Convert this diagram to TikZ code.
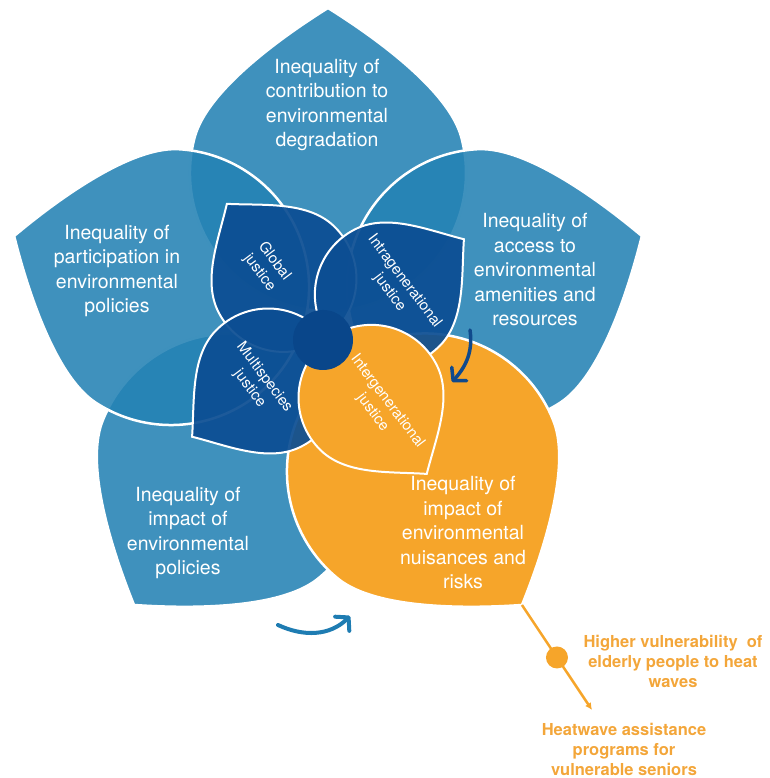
\documentclass[tikz,border=0pt]{standalone}
\usepackage{fontspec}
\setmainfont{TeX Gyre Heros}
\usetikzlibrary{calc}
\usetikzlibrary{arrows.meta}
\tikzset{>=latex}
\definecolor{petalblue}{RGB}{36,130,180}
\definecolor{innerblue}{RGB}{12,78,147}
\definecolor{hubblue}{RGB}{9,70,138}
\definecolor{myorange}{RGB}{246,165,42}
\definecolor{noteorange}{RGB}{243,166,58}
\definecolor{arrowblue}{RGB}{16,74,140}
\definecolor{arrowteal}{RGB}{30,124,178}
\tikzset{
  bigpetal/.style={fill=petalblue, fill opacity=0.88, draw=white, line width=2.5pt},
  bigorange/.style={fill=myorange, draw=white, line width=2.5pt},
  smallpetal/.style={fill=innerblue, fill opacity=0.93, draw=white, line width=2pt},
  smallorange/.style={fill=myorange, draw=white, line width=2pt},
  hub/.style={circle, fill=hubblue, minimum size=60pt, inner sep=0pt},
  bigtext/.style={text=white, align=center, font=\fontsize{19.5}{24.5}\selectfont},
  innertext/.style={text=white, align=center, rotate=-53, font=\fontsize{15}{18.5}\selectfont},
  notetext/.style={text=noteorange, align=center, font=\bfseries\fontsize{16.5}{20}\selectfont},
  curvearrow/.style={line width=4pt, line cap=round, -{Straight Barb[round, length=9pt, width=20pt]}},
}

% petal: style, direction, centre distance, radius, tip distance,
% half angle at the tip, angle where the side meets the disc, handle length
\newcommand{\petal}[8]{%
  \pgfmathsetmacro\pxa{#5-#8*cos(#6)}%
  \pgfmathsetmacro\pya{#8*sin(#6)}%
  \pgfmathsetmacro\pxb{#3+#4*cos(#7)+#8*sin(#7)}%
  \pgfmathsetmacro\pyb{#4*sin(#7)-#8*cos(#7)}%
  \pgfmathsetmacro\pxc{#3+#4*cos(#7)}%
  \pgfmathsetmacro\pyc{#4*sin(#7)}%
  \pgfmathsetmacro\nya{-\pya}%
  \pgfmathsetmacro\nyb{-\pyb}%
  \pgfmathsetmacro\nyc{-\pyc}%
  \path[#1, rotate=#2] (\pxc,\nyc) .. controls (\pxb,\nyb) and (\pxa,\nya) .. (#5,0)
    .. controls (\pxa,\pya) and (\pxb,\pyb) .. (\pxc,\pyc)
    arc[start angle=#7, end angle={360-#7}, radius=#4] -- cycle;%
}

\begin{document}
\begin{tikzpicture}[x=1pt, y=1pt]
  \useasboundingbox (-328,-440) rectangle (441,338);

    \pgfmathsetmacro\Rc{165} % big petals
    \pgfmathsetmacro\Rr{138}
    \pgfmathsetmacro\Rt{330}
    \pgfmathsetmacro\rc{74} % inner petals
    \pgfmathsetmacro\rr{73}
    \pgfmathsetmacro\rt{168}

    % outer ring
    \petal{bigpetal}{90}{\Rc}{\Rr}{\Rt}{58}{75}{50}
    \petal{bigpetal}{234}{\Rc}{\Rr}{\Rt}{58}{75}{50}
    \petal{bigpetal}{162}{\Rc}{\Rr}{\Rt}{58}{75}{50}
    \petal{bigpetal}{18}{\Rc}{\Rr}{\Rt}{58}{75}{50}
    \petal{bigorange}{306}{\Rc}{\Rr}{\Rt}{58}{75}{50}

    % inner ring
    \petal{smallpetal}{127}{\rc}{\rr}{\rt}{50}{80}{36}
    \petal{smallpetal}{36}{\rc}{\rr}{\rt}{50}{80}{36}
    \petal{smallpetal}{216}{\rc}{\rr}{\rt}{50}{80}{36}
    \petal{smallorange}{306}{\rc}{\rr}{\rt}{50}{80}{36}
    \node[hub] (hub) at (-5,-2) {};

    \node[bigtext] (contrib) at (-1,233) {Inequality of\\contribution to\\environmental\\degradation};
    \node[bigtext] (particip) at (-211,67) {Inequality of\\participation in\\environmental\\policies};
    \node[bigtext] (access) at (207,68) {Inequality of\\access to\\environmental\\amenities and\\resources};
    \node[bigtext] (policies) at (-140,-195) {Inequality of\\impact of\\environmental\\policies};
    \node[bigtext] (nuisance) at (135,-195) {Inequality of\\impact of\\environmental\\nuisances and\\risks};

    \node[innertext] (global) at (-61,71) {Global\\justice};
    \node[innertext] (intra) at (69,51) {Intragenerational\\justice};
    \node[innertext] (multi) at (-71,-45) {Multispecies\\justice};
    \node[innertext] (inter) at (52,-69) {Intergenerational\\justice};

    % arrows between the petals
    \coordinate (A1) at (142,8);
    \coordinate (B1) at (124,-44);
    \draw[curvearrow, arrowblue, line width=3.5pt] (A1) to[out=-82, in=48] (B1);
    \coordinate (A2) at (-50,-287);
    \coordinate (B2) at (22,-278);
    \draw[curvearrow, arrowteal] (A2) to[out=-25, in=225] (B2);

    % example
    \coordinate (tip) at (306:\Rt);
    \coordinate (end) at (264,-372);
    \node[notetext] (vuln) at (345,-323) {Higher vulnerability~ of\\elderly people to heat\\waves};
    \node[notetext] (heat) at (296,-411) {Heatwave assistance\\programs for\\vulnerable seniors};
    \draw[myorange, line width=2.5pt, -{Latex[length=7pt, width=7pt]}] (tip) -- node[circle, fill=myorange, minimum size=22pt, inner sep=0pt, pos=0.5] (dot) {} (end);
\end{tikzpicture}
\end{document}
